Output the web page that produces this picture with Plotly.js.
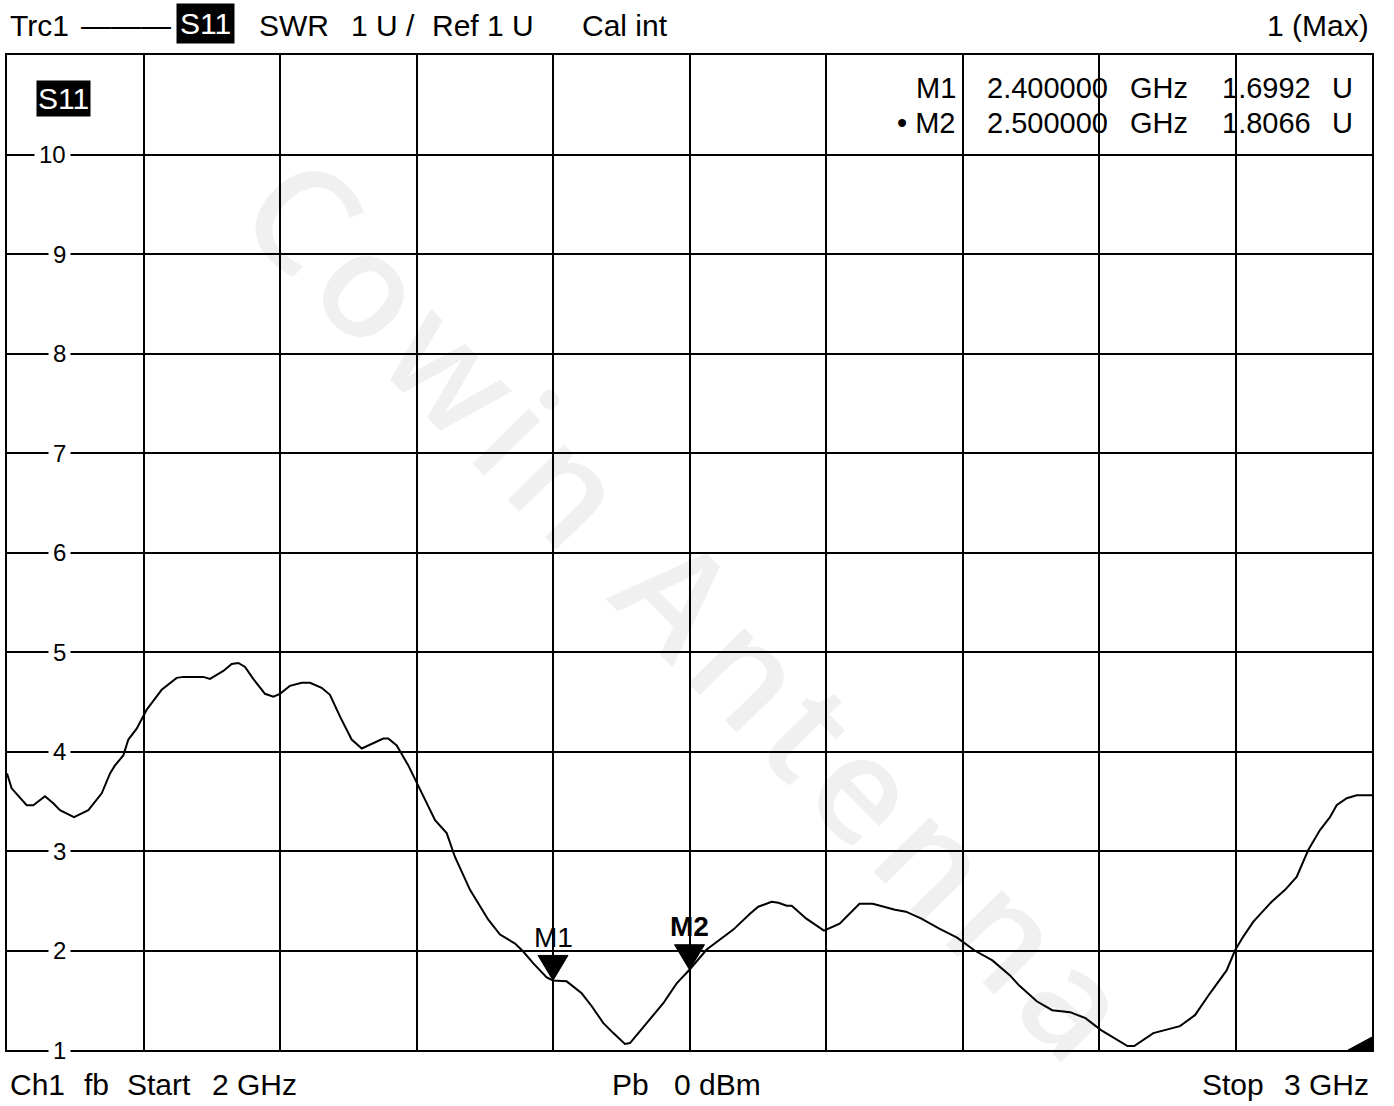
<!DOCTYPE html>
<html>
<head>
<meta charset="utf-8">
<script src="https://cdn.plot.ly/plotly-3.0.1.min.js"></script>
<style>
  html, body { margin: 0; padding: 0; background: #ffffff; }
  #chart { width: 1394px; height: 1106px; }
  .annotation[data-index="0"] .annotation-text { letter-spacing: 10px; }
</style>
</head>
<body>
<div id="chart"></div>
<script>
// ---- data ----
const freqGHz = [
  2.0000, 2.0034, 2.0144, 2.0193, 2.0278, 2.0339, 2.0388, 2.0491, 2.0596, 2.0694,
  2.0755, 2.0791, 2.0852, 2.0889, 2.0950, 2.1023, 2.1133, 2.1243, 2.1292, 2.1438,
  2.1487, 2.1585, 2.1646, 2.1695, 2.1744, 2.1804, 2.1890, 2.1951, 2.2000, 2.2073,
  2.2159, 2.2220, 2.2305, 2.2366, 2.2440, 2.2525, 2.2599, 2.2684, 2.2757, 2.2793,
  2.2855, 2.2940, 2.3038, 2.3136, 2.3221, 2.3282, 2.3392, 2.3526, 2.3612, 2.3722,
  2.3782, 2.3856, 2.3954, 2.4000, 2.4100, 2.4210, 2.4284, 2.4369, 2.4442, 2.4527,
  2.4564, 2.4613, 2.4711, 2.4808, 2.4906, 2.5000, 2.5126, 2.5223, 2.5321, 2.5443,
  2.5504, 2.5602, 2.5651, 2.5712, 2.5749, 2.5856, 2.5985, 2.6100, 2.6245, 2.6343,
  2.6505, 2.6586, 2.6699, 2.6830, 2.6960, 2.7089, 2.7219, 2.7348, 2.7414, 2.7544,
  2.7657, 2.7788, 2.7901, 2.8015, 2.8209, 2.8258, 2.8398, 2.8593, 2.8703, 2.8813,
  2.8935, 2.8996, 2.9057, 2.9131, 2.9265, 2.9363, 2.9448, 2.9533, 2.9619, 2.9692,
  2.9741, 2.9815, 2.9888, 3.0000
];
const swr = [
  3.78, 3.63, 3.46, 3.46, 3.55, 3.48, 3.41, 3.34, 3.41, 3.58,
  3.78, 3.86, 3.96, 4.12, 4.23, 4.42, 4.62, 4.74, 4.75, 4.75,
  4.73, 4.81, 4.88, 4.89, 4.85, 4.73, 4.58, 4.55, 4.58, 4.66,
  4.69, 4.69, 4.64, 4.57, 4.35, 4.12, 4.03, 4.08, 4.13, 4.13,
  4.06, 3.86, 3.58, 3.31, 3.18, 2.94, 2.61, 2.31, 2.16, 2.07,
  1.99, 1.87, 1.73, 1.6992, 1.69, 1.57, 1.44, 1.27, 1.17, 1.06,
  1.07, 1.15, 1.30, 1.47, 1.67, 1.8066, 2.01, 2.11, 2.21, 2.37,
  2.44, 2.49, 2.48, 2.45, 2.45, 2.32, 2.20, 2.27, 2.47, 2.47,
  2.41, 2.39, 2.32, 2.22, 2.13, 2.00, 1.90, 1.75, 1.65, 1.49,
  1.40, 1.38, 1.32, 1.20, 1.04, 1.04, 1.17, 1.24, 1.35, 1.57,
  1.80, 2.00, 2.14, 2.29, 2.49, 2.61, 2.74, 3.01, 3.21, 3.34,
  3.46, 3.53, 3.56, 3.56
];
const markerNames = ['M1', 'M2'];
const markerFreqGHz = [2.4, 2.5];
const markerSwr = [1.6992, 1.8066];
const activeMarker = 1;
const yTickVals = [1, 2, 3, 4, 5, 6, 7, 8, 9, 10];
const startGHz = 2, stopGHz = 3;
const yMin = 1, yMax = 11;

// ---- layout helpers (pixel -> paper) ----
const L = 7, R = 1372, T = 55, B = 1050;
const px = x => (x - L) / (R - L);
const py = y => (B - y) / (B - T);
const FONT = 'Liberation Sans, Arial, sans-serif';

function txt(text, x, y, anchor, size, extra) {
  return Object.assign({
    text: text, xref: 'paper', yref: 'paper', x: px(x), y: py(y),
    xanchor: anchor, yanchor: 'middle', showarrow: false,
    font: { family: FONT, size: size, color: '#000000' }
  }, extra || {});
}

const annotations = [];
// watermark (index 0)
annotations.push({
  text: 'Cowin Antenna', xref: 'paper', yref: 'paper', x: px(694), y: py(608),
  xanchor: 'center', yanchor: 'middle', showarrow: false, textangle: 45.5,
  font: { family: 'Open Sans, sans-serif', size: 146, weight: 600, color: 'rgba(0,0,0,0.06)' }
});

// y tick labels drawn inside the grid with white background
yTickVals.forEach(v => {
  annotations.push({
    text: String(v), xref: 'paper', yref: 'y', x: px(71), y: v,
    xanchor: 'right', yanchor: 'middle', showarrow: false,
    bgcolor: '#ffffff', borderpad: 4,
    font: { family: FONT, size: 24, color: '#000000' }
  });
});

// header
annotations.push(txt('Trc1', 8, 25, 'left', 30));
annotations.push(txt('———', 79, 25, 'left', 30));
annotations.push(txt('S11', 176, 23, 'left', 30, { bgcolor: '#000000', borderpad: 3, font: { family: FONT, size: 30, color: '#ffffff' } }));
annotations.push(txt('SWR', 257, 25, 'left', 30));
annotations.push(txt('1 U /', 349, 25, 'left', 30));
annotations.push(txt('Ref 1 U', 430, 25, 'left', 30));
annotations.push(txt('Cal int', 580, 25, 'left', 30));
annotations.push(txt('1 (Max)', 1371, 25, 'right', 30));

// trace label inside plot
annotations.push(txt('S11', 36, 99, 'left', 30, { bgcolor: '#000000', borderpad: 1, font: { family: FONT, size: 30, color: '#ffffff' } }));

// marker table
const rowY = [88, 123];
markerNames.forEach((n, i) => {
  const name = (i === activeMarker ? '• ' : '') + n;
  annotations.push(txt(name, 958, rowY[i], 'right', 29));
  annotations.push(txt(markerFreqGHz[i].toFixed(6), 985, rowY[i], 'left', 29));
  annotations.push(txt('GHz', 1190, rowY[i], 'right', 29));
  annotations.push(txt(markerSwr[i].toFixed(4), 1313, rowY[i], 'right', 29));
  annotations.push(txt('U', 1355, rowY[i], 'right', 29));
});

// marker labels above triangles
markerNames.forEach((n, i) => {
  annotations.push({
    text: i === activeMarker ? '<b>' + n + '</b>' : n,
    xref: 'x', yref: 'y', x: markerFreqGHz[i], y: markerSwr[i],
    xanchor: 'center', yanchor: 'middle', yshift: 43, showarrow: false,
    font: { family: FONT, size: 28, color: '#000000' }
  });
});

// footer
annotations.push(txt('Ch1', 8, 1084, 'left', 30));
annotations.push(txt('fb', 82, 1084, 'left', 30));
annotations.push(txt('Start', 125, 1084, 'left', 30));
annotations.push(txt(startGHz + ' GHz', 210, 1084, 'left', 30));
annotations.push(txt('Pb', 610, 1084, 'left', 30));
annotations.push(txt('0 dBm', 672, 1084, 'left', 30));
annotations.push(txt('Stop', 1200, 1084, 'left', 30));
annotations.push(txt(stopGHz + ' GHz', 1371, 1084, 'right', 30));

// marker triangles (pixel-sized, anchored at marker data point)
const shapes = markerNames.map((n, i) => ({
  type: 'path', xref: 'x', yref: 'y',
  xsizemode: 'pixel', ysizemode: 'pixel',
  xanchor: markerFreqGHz[i], yanchor: markerSwr[i],
  path: 'M -15 25 L 15 25 L 0 0 Z',
  fillcolor: '#000000', line: { color: '#000000', width: 1 }
}));
// corner indicator triangle
shapes.push({
  type: 'path', xref: 'paper', yref: 'paper',
  xsizemode: 'pixel', ysizemode: 'pixel', xanchor: 1, yanchor: 0,
  path: 'M -24 0 L 0 0 L 0 13 Z',
  fillcolor: '#000000', line: { color: '#000000', width: 1 }
});

const trace = {
  x: freqGHz, y: swr, type: 'scatter', mode: 'lines',
  line: { color: '#000000', width: 2 }, hoverinfo: 'skip'
};

const axisCommon = {
  showgrid: true, gridcolor: '#000000', gridwidth: 2,
  showline: true, linecolor: '#000000', linewidth: 2, mirror: true,
  zeroline: false, showticklabels: false, ticks: '', fixedrange: true
};

const layout = {
  width: 1394, height: 1106,
  margin: { l: L, r: 1394 - R, t: T, b: 1106 - B, pad: 0 },
  paper_bgcolor: '#ffffff', plot_bgcolor: '#ffffff',
  showlegend: false,
  xaxis: Object.assign({}, axisCommon, { range: [startGHz, stopGHz], tick0: startGHz, dtick: 0.1 }),
  yaxis: Object.assign({}, axisCommon, { range: [yMin, yMax], tick0: yMin, dtick: 1 }),
  annotations: annotations,
  shapes: shapes
};

Plotly.newPlot('chart', [trace], layout, { displayModeBar: false, staticPlot: true });
</script>
</body>
</html>
